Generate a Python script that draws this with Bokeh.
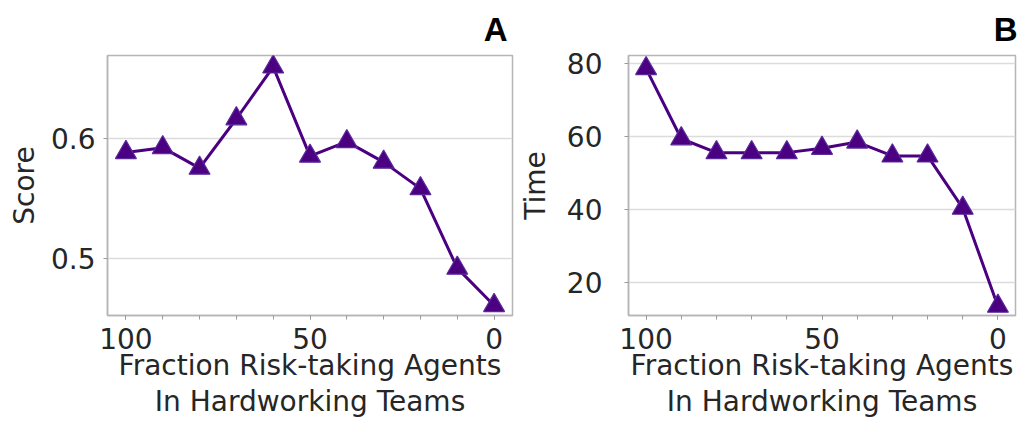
from bokeh.plotting import figure
from bokeh.layouts import row
from bokeh.models import Range1d, FixedTicker
from bokeh.embed import file_html
from bokeh.resources import INLINE

fraction = [100, 90, 80, 70, 60, 50, 40, 30, 20, 10, 0]
score = [0.588, 0.592, 0.575, 0.616, 0.659, 0.585, 0.597, 0.580, 0.558, 0.492, 0.461]
time_vals = [78.5, 59.3, 55.5, 55.5, 55.5, 56.7, 58.4, 54.6, 54.6, 40.3, 13.5]

x_ticks = [0, 50, 100]
x_minor = [0, 10, 20, 30, 40, 50, 60, 70, 80, 90, 100]
score_ticks = [0.5, 0.6]
time_ticks = [20, 40, 60, 80]

COLOR = "#4B0082"
TXT = "#262626"
FONT = "DejaVu Sans"
FS = "28px"


def make(panel, ys, yticks, yrange, ylabel, width, mb, ystand, ylabstand,
         toff, tstand):
    p = figure(width=width, height=425, output_backend="svg", toolbar_location=None,
               x_range=Range1d(105, -5), y_range=Range1d(*yrange),
               min_border_left=mb[0], min_border_right=mb[1],
               min_border_top=mb[2], min_border_bottom=mb[3],
               title=panel)
    p.title.align = "right"
    p.title.vertical_align = "top"
    p.title.text_font = "Liberation Sans"
    p.title.text_font_style = "bold"
    p.title.text_font_size = "33px"
    p.title.text_color = "#000000"
    p.title.offset = toff
    p.title.standoff = tstand
    p.line(fraction, ys, line_color=COLOR, line_width=3)
    p.scatter(fraction, ys, marker="triangle", size=21, fill_color=COLOR,
              line_color="#5a2a9a", line_width=1.2)
    p.outline_line_color = "#b5b5b5"
    p.outline_line_width = 1.5
    p.xgrid.grid_line_color = None
    p.ygrid.grid_line_color = "#dcdcdc"
    p.ygrid.grid_line_width = 1.5
    p.xaxis.ticker = FixedTicker(ticks=x_ticks, minor_ticks=x_minor)
    p.yaxis.ticker = FixedTicker(ticks=yticks)
    for ax in (p.xaxis[0], p.yaxis[0]):
        ax.axis_line_color = "#b5b5b5"
        ax.axis_line_width = 1.5
        ax.major_tick_line_color = "#9a9a9a"
        ax.minor_tick_line_color = "#9a9a9a"
        ax.major_tick_in = 0
        ax.major_tick_out = 4
        ax.minor_tick_in = 0
        ax.minor_tick_out = 4
        ax.major_label_text_font = FONT
        ax.major_label_text_font_size = FS
        ax.major_label_text_color = TXT
        ax.axis_label_text_font = FONT
        ax.axis_label_text_font_size = FS
        ax.axis_label_text_font_style = "normal"
        ax.axis_label_text_color = TXT
    p.yaxis.minor_tick_line_color = None
    p.xaxis.axis_label = "Fraction Risk-taking Agents\nIn Hardworking Teams"
    p.xaxis.axis_label_text_line_height = 1.1
    p.xaxis.major_label_standoff = 8
    p.xaxis.axis_label_standoff = -3
    p.yaxis.axis_label = ylabel
    p.yaxis.major_label_standoff = ystand
    p.yaxis.axis_label_standoff = ylabstand
    return p


pA = make("A", score, score_ticks, (0.4527, 0.6685), "Score", 515,
          (107, 3, 52, 110), 8, 7, 5, 12)
pB = make("B", time_vals, time_ticks, (10.95, 82.07), "Time", 506,
          (96, 6, 55, 106), 22, 12, -2, 12)

layout = row(pA, pB)
open("out.html", "w").write(file_html(layout, INLINE))
